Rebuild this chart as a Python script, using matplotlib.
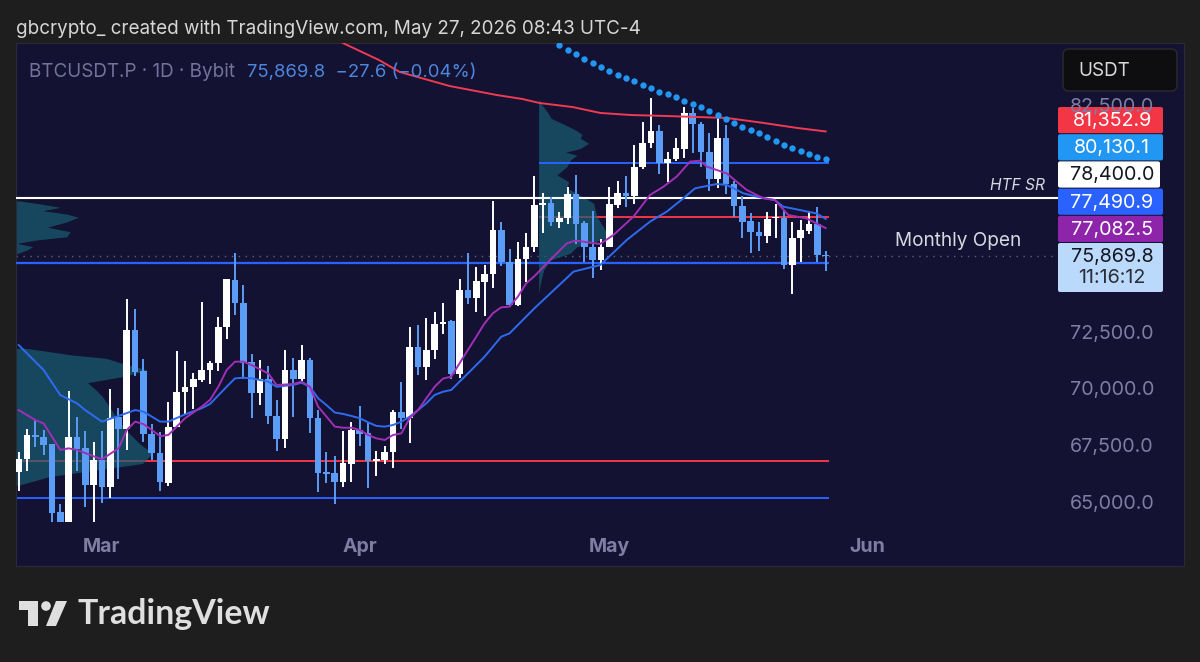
import pandas as pd
import matplotlib
matplotlib.use("Agg")
from matplotlib import pyplot as plt
from matplotlib.patches import FancyBboxPatch, Polygon, Circle

plt.rcParams['font.family'] = ['Inter', 'DejaVu Sans']

# daily candles, Feb 19 to May 27
dates = pd.date_range('2026-02-19', periods=98)
opens = [66300, 66860, 67940, 67850, 67530, 64520, 64110, 67860, 67350, 65710,
         66830, 65630, 68720, 68200, 72580, 70770, 67980, 67130, 65830, 68310,
         69820, 70060, 70370, 70810, 71110, 72710, 74800, 73790, 71150, 69810,
         70400, 68780, 67750, 70800, 70410, 71240, 68700, 66290, 66240, 65880,
         66660, 68160, 68010, 66800, 66820, 67190, 68940, 68700, 71830, 70940,
         71680, 72860, 72980, 70620, 74350, 74010, 74710, 75050, 76980, 75600,
         73680, 75730, 76230, 78100, 78180, 77350, 77540, 78590, 77290, 76250,
         75670, 76230, 78100, 78620, 78490, 79770, 80830, 81390, 79960, 80120,
         80590, 82170, 81700, 80450, 79240, 81050, 79030, 78070, 77380, 76920,
         76750, 77510, 77540, 75440, 76660, 76950, 77250, 75897.4]
highs = [67200, 68200, 68600, 68160, 67530, 64870, 69900, 68750, 68100, 67640,
         68100, 69990, 69120, 73950, 73490, 71300, 68410, 68090, 69410, 71670,
         71220, 70690, 73820, 71210, 73140, 74820, 76000, 74570, 71500, 71250,
         71000, 69490, 71700, 71330, 71920, 71360, 69040, 67170, 67010, 68130,
         68530, 69220, 68530, 67250, 67450, 69040, 70270, 72700, 72800, 73090,
         73390, 73760, 73020, 74830, 75970, 75350, 75450, 78280, 77340, 76140,
         76480, 76880, 79380, 78620, 78470, 77810, 78910, 79430, 77410, 77840,
         76600, 78880, 79160, 79380, 80750, 81760, 82820, 81640, 80460, 81050,
         82420, 82370, 81760, 81300, 82010, 81620, 79180, 78500, 77730, 77340,
         77810, 78130, 77840, 77340, 77440, 77850, 78000, 76090]
lows = [65480, 66360, 67420, 67050, 64080, 64110, 64110, 66360, 64770, 64110,
        64920, 65170, 65980, 67280, 70560, 67640, 66830, 65480, 65680, 68310,
        68870, 69070, 70300, 70190, 70750, 72170, 73260, 70400, 68680, 69250,
        68420, 67230, 67350, 68750, 70340, 68010, 65430, 65800, 64880, 65660,
        65850, 67450, 65580, 66140, 66660, 66500, 68190, 67600, 70590, 70370,
        71300, 72400, 70400, 70440, 73710, 73390, 73200, 74450, 75410, 73640,
        73620, 74710, 76040, 76850, 77180, 77070, 77250, 76370, 75600, 74860,
        75230, 76230, 77960, 78000, 78130, 79710, 80610, 79460, 79120, 80050,
        80190, 80390, 79800, 78720, 78840, 78590, 77590, 76660, 75970, 76070,
        76440, 76630, 75270, 74170, 75600, 76820, 75580, 75200]
closes = [66880, 67920, 67860, 67480, 64490, 64110, 67860, 67330, 65730, 66830,
          65630, 68700, 68200, 72580, 70740, 67980, 67130, 65850, 68310, 69820,
          70070, 70400, 70810, 71120, 72710, 74820, 73790, 71130, 69810, 70400,
          68780, 67750, 70800, 70430, 71240, 68700, 66240, 66220, 65880, 66690,
          68160, 67980, 66790, 66860, 67190, 68940, 68700, 71830, 70960, 71680,
          72860, 72950, 70620, 74350, 74010, 74740, 75050, 76980, 75570, 73680,
          75730, 76260, 78100, 78180, 77350, 77540, 78590, 77280, 76250, 75670,
          76250, 78150, 78620, 78500, 79800, 80830, 81390, 79940, 80140, 80610,
          82170, 81680, 80430, 79240, 81050, 79030, 78070, 77370, 76910, 76750,
          77470, 77570, 75440, 76660, 76980, 77250, 75897.4, 75869.8]

# slow and fast averages, read at these candle numbers
slow_idx = [0, 3, 5, 7, 8, 10, 12, 14, 15, 17, 18, 20, 22, 23, 25, 26, 27, 28, 30, 31,
            33, 34, 35, 36, 37, 38, 39, 40, 41, 42, 43, 44, 45, 46, 47, 48, 49, 50, 51, 52,
            53, 54, 55, 56, 57, 58, 59, 60, 61, 62, 66.7, 69.9, 73.1, 75.9, 77.9, 79.9, 81.3,
            83.9, 85.1, 87.1, 88.7, 90.9, 91.9, 93.9, 95.9, 97]
slow_ma = [71915, 70810, 69705, 69340, 69040, 68530, 68780, 69040, 68970, 68530, 68530, 68850,
           69120, 69310, 70070, 70440, 70470, 70440, 70300, 70070,
           70150, 70250, 70070, 69560, 69260, 68930, 68870, 68780, 68680, 68500, 68340, 68310,
           68380, 68530, 68750, 69040, 69340, 69710, 69850, 69930,
           70300, 70660, 71030, 71400, 71840, 72280, 72430, 72800, 73170, 73540, 75160, 75450,
           76560, 77370, 77810, 78400, 78840, 79030, 78990, 78620, 78470, 78320, 78030, 77880,
           77730, 77490.9]
fast_idx = [0, 2, 3, 5, 6, 7, 10, 12, 13, 14, 15, 16, 17, 18, 19, 20, 22, 23, 24, 25, 26, 27, 28,
            30, 31, 33, 34, 35, 36, 37, 38, 39, 40, 41, 42, 43, 44, 45, 46, 47, 48, 49, 50, 51, 52,
            53, 54, 55, 56, 57, 58, 59, 60, 61, 62, 63.5, 65.9, 66.9, 69.9, 71.5, 73.9, 75.9, 77.5,
            79.1, 80.7, 81.9, 82.7, 85.1, 87.5, 89.5, 90.9, 92.5, 94.7, 97]
fast_ma = [69040, 68600, 68450, 67280, 67350, 67280, 66860, 67350, 68160, 68530, 68420, 68160,
           67890, 67940, 68310, 68680, 69190, 69490, 70070, 70810, 71180, 71180, 71030,
           70660, 70150, 70190, 70300, 70070, 69190, 68750, 68310, 68260, 68260, 68160, 67940,
           67790, 67720, 67940, 68010, 68680, 69040, 69560, 70070, 70430, 70520,
           71110, 71700, 72280, 72870, 73320, 73580, 73610, 74050, 74640, 74960, 75530, 76410,
           76530, 76380, 76780, 77590, 78550, 78910, 79360, 80020, 80060, 79800, 79500, 78770,
           78400, 78320, 77660, 77510, 77082.5]

# long average (red)
long_idx = [38.97, 43.3, 45.8, 51.8, 57.5, 60.5, 62.6, 66.6, 69.9, 73.5, 77.4, 81.5, 85.1, 89.5, 93.5, 97]
long_ma = [85260, 84510, 83980, 83360, 82960, 82790, 82610, 82430, 82170, 82080, 82040, 81990,
           81950, 81730, 81510, 81352.9]

# dotted curve, one dot per candle
dot_idx = list(range(65, 98))
dot_vals = [85170, 84950, 84780, 84560, 84380, 84200, 84020, 83850, 83720, 83580, 83400, 83270,
            83110, 82990, 82860, 82700, 82570, 82420, 82260, 82080, 81900, 81740, 81570, 81420,
            81270, 81090, 80920, 80760, 80640, 80490, 80360, 80240, 80130.1]

# volume profiles: price row, width in candles
vp1_price = [78280, 78150, 78000, 77850, 77700, 77560, 77360, 77120, 76920, 76700, 76560, 76410,
             76260, 76110, 75940]
vp1_width = [0.5, 2.9, 5.3, 3.2, 6.1, 7.5, 6.1, 3.8, 6.5, 6.1, 2.5, 0.1, 2.0, 1.3, 0]
vp2_price = [71770, 71620, 71470, 71330, 71100, 70810, 70520, 70250, 69930, 69630, 69190, 68750,
             68160, 67570, 67130, 66680, 66390, 66100, 65730]
vp2_width = [1.2, 4, 6.8, 10.8, 12.8, 15.8, 12.8, 8.6, 9.6, 10.4, 11.2, 12, 13.2, 14.8, 16.4,
             15.2, 9.6, 4, 0.4]
vp3_price = [82740, 82520, 82230, 81930, 81640, 81420, 81225, 81050, 80830, 80600, 80430, 80310,
             80090, 79800, 79430, 79130, 78840, 78620, 78180, 77590, 77000, 76630, 76260, 75970,
             75670, 75230, 74640, 74200]
vp3_width = [0.1, 0.4, 1, 1.5, 3.2, 4.4, 5.2, 5, 6, 5, 3.2, 4.6, 3.8, 3.4, 2.2, 3.6, 3.4, 4.6,
             6.6, 7, 8, 8.2, 4.6, 3.8, 1.4, 0.6, 0.2, 0]

htf_sr = 78400
last_price = 75869.8
level_blue_low = 65170
level_red_low = 66790
level_blue_mid = 75540
level_red_mid = 77570
level_blue_high = 79970

price_ticks = [65000, 67500, 70000, 72500, 82500]
month_names = ['Mar', 'Apr', 'May', 'Jun']
month_starts = ['2026-03-01', '2026-04-01', '2026-05-01', '2026-06-01']

tag_texts = ['81,352.9', '80,130.1', '78,400.0', '77,490.9', '77,082.5']
tag_colors = ['#f23645', '#2196f3', '#ffffff', '#2962ff', '#8e24aa']
tag_text_colors = ['#ffffff', '#ffffff', '#131722', '#ffffff', '#ffffff']

PANEL = '#131233'
BG = '#1e1e1e'
UP = '#ffffff'
DOWN = '#5b9cf6'
VP = '#195f72'
AXIS_TXT = '#7f7da3'

fig = plt.figure(figsize=(12, 6.62), dpi=100, facecolor=BG)
ax = fig.add_axes([16 / 1200, 1 - 566 / 662, 1168 / 1200, 523 / 662], facecolor=PANEL)
ax.set_xlim(-0.32, 140.07)
ax.set_ylim(62150, 85261)
ax.set_yticks([])
ax.set_xticks([])
for s in ax.spines.values():
    s.set_color('#2a2a3a')
    s.set_linewidth(0.8)

x = list(range(len(dates)))
xleft = -0.32
xright = 97.4

# level lines go below the profiles
ax.hlines(level_red_low, xleft, xright, color='#f23645', lw=1.4, zorder=1)
ax.hlines(level_blue_low, xleft, xright, color='#2962ff', lw=1.4, zorder=1)
ax.hlines(level_blue_mid, xleft, xright, color='#2962ff', lw=1.6, zorder=3)
ax.hlines(level_red_mid, 62.5, xright, color='#f23645', lw=1.4, zorder=1)
ax.hlines(level_blue_high, 62.5, xright, color='#2962ff', lw=1.4, zorder=3)
ax.hlines(last_price, xleft, 125, color='#5f6080', lw=1, linestyles=(0, (1, 4)), zorder=1)
ax.hlines(htf_sr, xleft, 124.9, color='#ffffff', lw=1.5, zorder=3)

ax.fill_betweenx(vp1_price, xleft, [xleft + w for w in vp1_width], color=VP, alpha=0.7, lw=0, zorder=2)
ax.fill_betweenx(vp2_price, xleft, [xleft + w for w in vp2_width], color=VP, alpha=0.7, lw=0, zorder=2)
ax.fill_betweenx(vp3_price, 62.5, [62.5 + w for w in vp3_width], color=VP, alpha=0.7, lw=0, zorder=2)

for i in x:
    col = UP if closes[i] >= opens[i] else DOWN
    ax.vlines(i, lows[i], highs[i], color=col, lw=1.4, zorder=4)
    bot = min(opens[i], closes[i])
    h = max(abs(closes[i] - opens[i]), 45)
    ax.bar(i, h, bottom=bot, width=0.8, color=col, lw=0, zorder=4)

ax.plot(slow_idx, slow_ma, color='#2f6bf0', lw=1.4, zorder=5)
ax.plot(fast_idx, fast_ma, color='#a02fb5', lw=1.4, zorder=5)
ax.plot(long_idx, long_ma, color='#ee3b52', lw=1.4, zorder=5)
ax.plot(dot_idx, dot_vals, ls='none', marker='o', ms=4.6, mew=0, color='#2196f3', zorder=5)

# overlay in picture pixels for labels and chrome
ov = fig.add_axes([0, 0, 1, 1])
ov.set_xlim(0, 1200)
ov.set_ylim(662, 0)
ov.axis('off')
ov.patch.set_alpha(0)

ov.text(16, 29, 'gbcrypto_ created with TradingView.com, May 27, 2026 08:43 UTC-4',
        color='#d6d6d6', fontsize=13.55, va='center', ha='left')
ov.text(29, 72, 'BTCUSDT.P · 1D · Bybit', color='#73729a', fontsize=13.6, va='center')
ov.text(247, 72, '75,869.8  −27.6 (−0.04%)', color='#4e86dc', fontsize=13.3, va='center')

for p in price_ticks:
    yp = ax.transData.transform((0, p))[1]
    ov.text(1112, 662 - yp + 2, f'{p:,.1f}', color=AXIS_TXT, fontsize=14.2, ha='center', va='center')

for name, d in zip(month_names, month_starts):
    i = (pd.Timestamp(d) - dates[0]).days
    xp = ax.transData.transform((i, 0))[0]
    ov.text(xp, 546.5, name, color=AXIS_TXT, fontsize=14, fontweight='bold', ha='center', va='center')

ov.text(1018, 186, 'HTF SR', color='#d8d8e0', fontsize=11.2, style='italic', ha='center', va='center')
ov.text(958, 241, 'Monthly Open', color='#d8d8e0', fontsize=13.7, ha='center', va='center')

# USDT box
ov.add_patch(FancyBboxPatch((1063, 49), 114, 42, boxstyle='round,pad=0,rounding_size=6',
                            fc='#0e0e10', ec='#2b2b30', lw=1))
ov.text(1078, 71, 'USDT', color='#d8d8d8', fontsize=13.6, va='center')

# price tags
tag_top = 107
tag_h = 27
for n, (t, c, tc) in enumerate(zip(tag_texts, tag_colors, tag_text_colors)):
    y0 = tag_top + n * 27.2
    right = 1160 if c == '#ffffff' else 1163
    ov.add_patch(FancyBboxPatch((1058, y0), right - 1058, tag_h - 0.8,
                                boxstyle='round,pad=0,rounding_size=2', fc=c, ec='none'))
    ov.text(1112, y0 + 14, t, color=tc, fontsize=14.2, ha='center', va='center')
ov.add_patch(FancyBboxPatch((1058, 243), 105, 49, boxstyle='round,pad=0,rounding_size=2',
                            fc='#bbd9fb', ec='none'))
ov.text(1112, 257, '75,869.8', color='#131722', fontsize=14.2, ha='center', va='center')
ov.text(1112, 278, '11:16:12', color='#2a2e39', fontsize=14.2, ha='center', va='center')

# TradingView logo
logo = '#dfdfdf'
ov.add_patch(Polygon([(19, 601), (38, 601), (38, 626), (28, 626), (28, 610), (19, 610)], fc=logo, ec='none'))
ov.add_patch(Circle((46, 606), 4.8, fc=logo, ec='none'))
ov.add_patch(Polygon([(56, 601), (67, 601), (56, 626), (46, 626)], fc=logo, ec='none'))
ov.text(78, 614, 'TradingView', color=logo, fontsize=24.4, fontweight='bold', family='Lato',
        va='center', ha='left')

fig.savefig('out.png', dpi=100, facecolor=BG)
